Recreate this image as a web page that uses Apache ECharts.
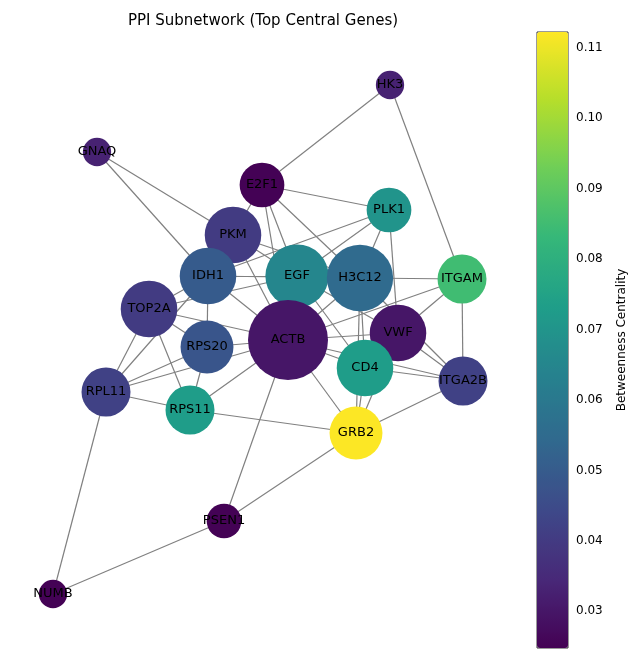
<!DOCTYPE html>
<html>
<head>
<meta charset="utf-8">
<script src="https://cdn.jsdelivr.net/npm/echarts@6/dist/echarts.min.js"></script>
<style>html,body{margin:0;padding:0;background:#fff}#c{width:637px;height:658px}</style>
</head>
<body>
<div id="c"></div>
<script>
var genes = ["HK3","GNAQ","E2F1","PLK1","PKM","IDH1","EGF","H3C12","ITGAM","TOP2A","VWF","ACTB","RPS20","CD4","ITGA2B","RPL11","RPS11","GRB2","PSEN1","NUMB"];
var posX = [390,97,262,389,233,208,297,360,462,149,398,288,207,365,463,106,190,356,224,53];
var posY = [85,152,185,210,235,276,276,278,279,309,333,340,347,368,381,392,410,433,521,594];
var degree = [2,2,5,5,8,8,10,11,6,8,8,16,7,8,6,6,6,7,3,2];
var betweenness = [0.033,0.033,0.025,0.070,0.040,0.050,0.065,0.055,0.085,0.040,0.030,0.030,0.048,0.073,0.042,0.042,0.073,0.112,0.025,0.025];
var edges = [
  ["E2F1","HK3"],["E2F1","PLK1"],["E2F1","PKM"],["E2F1","EGF"],["E2F1","ACTB"],["E2F1","H3C12"],
  ["HK3","ITGAM"],["GNAQ","PKM"],["GNAQ","IDH1"],
  ["PLK1","IDH1"],["PLK1","H3C12"],["PLK1","VWF"],["PLK1","EGF"],
  ["PKM","EGF"],["PKM","ACTB"],["PKM","IDH1"],["PKM","H3C12"],
  ["IDH1","EGF"],["IDH1","TOP2A"],["IDH1","RPS20"],["IDH1","ACTB"],["IDH1","RPL11"],["IDH1","H3C12"],
  ["EGF","TOP2A"],["EGF","ACTB"],["EGF","CD4"],["EGF","VWF"],
  ["H3C12","ITGAM"],["H3C12","ACTB"],["H3C12","CD4"],["H3C12","GRB2"],["H3C12","ITGA2B"],
  ["ITGAM","ITGA2B"],["ITGAM","VWF"],["ITGAM","ACTB"],
  ["TOP2A","RPS20"],["TOP2A","ACTB"],["TOP2A","RPL11"],["TOP2A","RPS11"],
  ["VWF","ACTB"],["VWF","CD4"],["VWF","ITGA2B"],["VWF","GRB2"],
  ["ACTB","RPS20"],["ACTB","CD4"],["ACTB","RPS11"],["ACTB","GRB2"],["ACTB","PSEN1"],["ACTB","ITGA2B"],
  ["RPS20","RPL11"],["RPS20","RPS11"],
  ["CD4","ITGA2B"],["CD4","GRB2"],["RPL11","ACTB"],
  ["RPL11","RPS11"],["RPL11","NUMB"],["RPS11","GRB2"],
  ["GRB2","ITGA2B"],["GRB2","PSEN1"],["PSEN1","NUMB"]
];
var cbTicks = [0.03,0.04,0.05,0.06,0.07,0.08,0.09,0.10,0.11];
var viridis = ["#440154","#482878","#3e4989","#31688e","#26828e","#1f9e89","#35b779","#6ece58","#b5de2b","#fde725"];
var bMin = 0.0248, bMax = 0.1122;

var chart = echarts.init(document.getElementById("c"));
var nodes = genes.map(function (g, i) {
  return {
    name: g, value: [posX[i], posY[i]],
    symbolSize: 20 * Math.sqrt(degree[i]),
    itemStyle: { color: echarts.color.lerp((betweenness[i] - bMin) / (bMax - bMin), viridis) }
  };
});
var links = edges.map(function (e) { return { source: e[0], target: e[1] }; });

chart.setOption({
  animation: false,
  title: { text: "PPI Subnetwork (Top Central Genes)", left: 258, top: 9, textAlign: "center",
    textStyle: { fontFamily: "DejaVu Sans", fontSize: 15, fontWeight: "normal", color: "#000" } },
  visualMap: { type: "continuous", min: bMin, max: bMax, seriesIndex: 1,
    inRange: { color: viridis }, calculable: false, showLabel: false, text: null,
    left: 537, top: 32, itemWidth: 31, itemHeight: 616, handleSize: 0, indicatorSize: 0,
    borderWidth: 0, padding: 0 },
  grid: [
    { left: 0, right: 0, top: 0, bottom: 0 },
    { left: 537, width: 31, top: 32, height: 616, show: true, borderColor: "#000", borderWidth: 0.8, backgroundColor: "transparent" }
  ],
  xAxis: [
    { gridIndex: 0, type: "value", min: 0, max: 637, show: false },
    { gridIndex: 1, type: "value", min: 0, max: 1, show: false }
  ],
  yAxis: [
    { gridIndex: 0, type: "value", min: 0, max: 658, inverse: true, show: false },
    { gridIndex: 1, type: "value", min: bMin, max: bMax, position: "right",
      name: "Betweenness Centrality", nameLocation: "middle", nameRotate: 90, nameGap: 48,
      nameTextStyle: { fontFamily: "DejaVu Sans", fontSize: 12, color: "#000" },
      axisLine: { show: false }, splitLine: { show: false },
      axisTick: { show: true, length: 4, lineStyle: { color: "#000" }, customValues: cbTicks },
      axisLabel: { customValues: cbTicks, fontFamily: "DejaVu Sans", fontSize: 12, color: "#000",
        formatter: function (v) { return v.toFixed(2); } } }
  ],
  series: [{
    type: "graph", coordinateSystem: "cartesian2d", xAxisIndex: 0, yAxisIndex: 0,
    data: nodes, links: links, symbol: "circle",
    lineStyle: { color: "#808080", width: 1.2, opacity: 1 },
    label: { show: true, position: "inside", color: "#000", fontFamily: "DejaVu Sans", fontSize: 13 },
    emphasis: { disabled: true }
  }, {
    type: "scatter", xAxisIndex: 1, yAxisIndex: 1, data: [], silent: true
  }]
});
</script>
</body>
</html>
